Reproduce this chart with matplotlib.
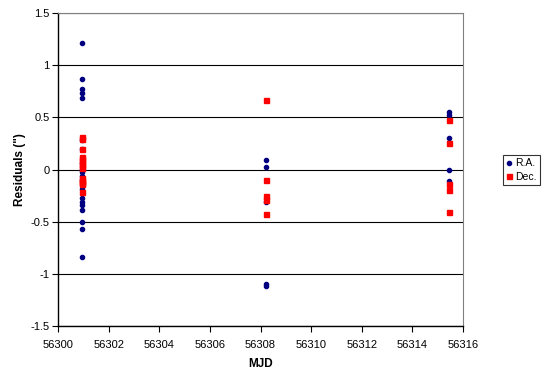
import matplotlib
matplotlib.use("Agg")
import matplotlib.pyplot as plt

plt.rcParams["font.family"] = ["Liberation Sans", "DejaVu Sans"]

# R.A. residuals (blue circles)
ra_mjd = [56300.93] * 20 + [56308.22] * 5 + [56315.45] * 5
ra_res = [1.21, 0.87, 0.77, 0.73, 0.69, 0.28, 0.20, 0.06, -0.02, -0.06,
          -0.10, -0.19, -0.27, -0.31, -0.34, -0.39, -0.50, -0.57, -0.84, 0.00,
          0.09, 0.02, -0.31, -1.10, -1.12,
          0.55, 0.52, 0.30, 0.00, -0.11]

# Dec. residuals (red squares)
dec_mjd = [56300.96] * 15 + [56308.22] * 5 + [56315.45] * 5
dec_res = [0.31, 0.29, 0.20, 0.12, 0.10, 0.08, 0.05, 0.03, 0.01, -0.08,
           -0.10, -0.12, -0.13, -0.14, -0.22,
           0.67, -0.10, -0.25, -0.29, -0.43,
           0.47, 0.25, -0.14, -0.20, -0.41]

fig = plt.figure(figsize=(5.44, 3.70), dpi=100)
ax = fig.add_axes([58 / 544, 44 / 370, 405 / 544, 313 / 370])

ax.set_axisbelow(True)
ax.grid(axis="y", color="black", linewidth=0.8)
ax.plot(ra_mjd, ra_res, "o", color="#000080", markersize=3.0, label="R.A.", zorder=3)
ax.plot(dec_mjd, dec_res, "s", color="#FF0000", markersize=3.6, label="Dec.", zorder=3)

ax.set_xlim(56300, 56316)
ax.set_ylim(-1.5, 1.5)
ax.set_xticks(range(56300, 56317, 2))
ax.set_yticks([-1.5, -1, -0.5, 0, 0.5, 1, 1.5])
ax.set_yticklabels(["-1.5", "-1", "-0.5", "0", "0.5", "1", "1.5"])
ax.tick_params(labelsize=8, length=4, width=0.8, color="black", pad=2)
ax.tick_params(axis="x", pad=6)
ax.ticklabel_format(axis="x", useOffset=False, style="plain")

for side in ["left", "bottom"]:
    ax.spines[side].set_color("black")
    ax.spines[side].set_linewidth(1.0)
for side in ["top", "right"]:
    ax.spines[side].set_color("#808080")
    ax.spines[side].set_linewidth(0.8)

ax.set_xlabel("MJD", fontsize=8.5, fontweight="bold", labelpad=6)
ax.set_ylabel('Residuals (")', fontsize=8.5, fontweight="bold", labelpad=3)

leg = fig.legend(loc="center left", bbox_to_anchor=(503 / 544, 1 - 170 / 370),
                 fontsize=7.5, frameon=True, fancybox=False, edgecolor="black",
                 handlelength=0.6, handletextpad=0.3, borderpad=0.3,
                 labelspacing=0.3, borderaxespad=0)
leg.get_frame().set_linewidth(0.8)

fig.savefig("out.png", dpi=100)
